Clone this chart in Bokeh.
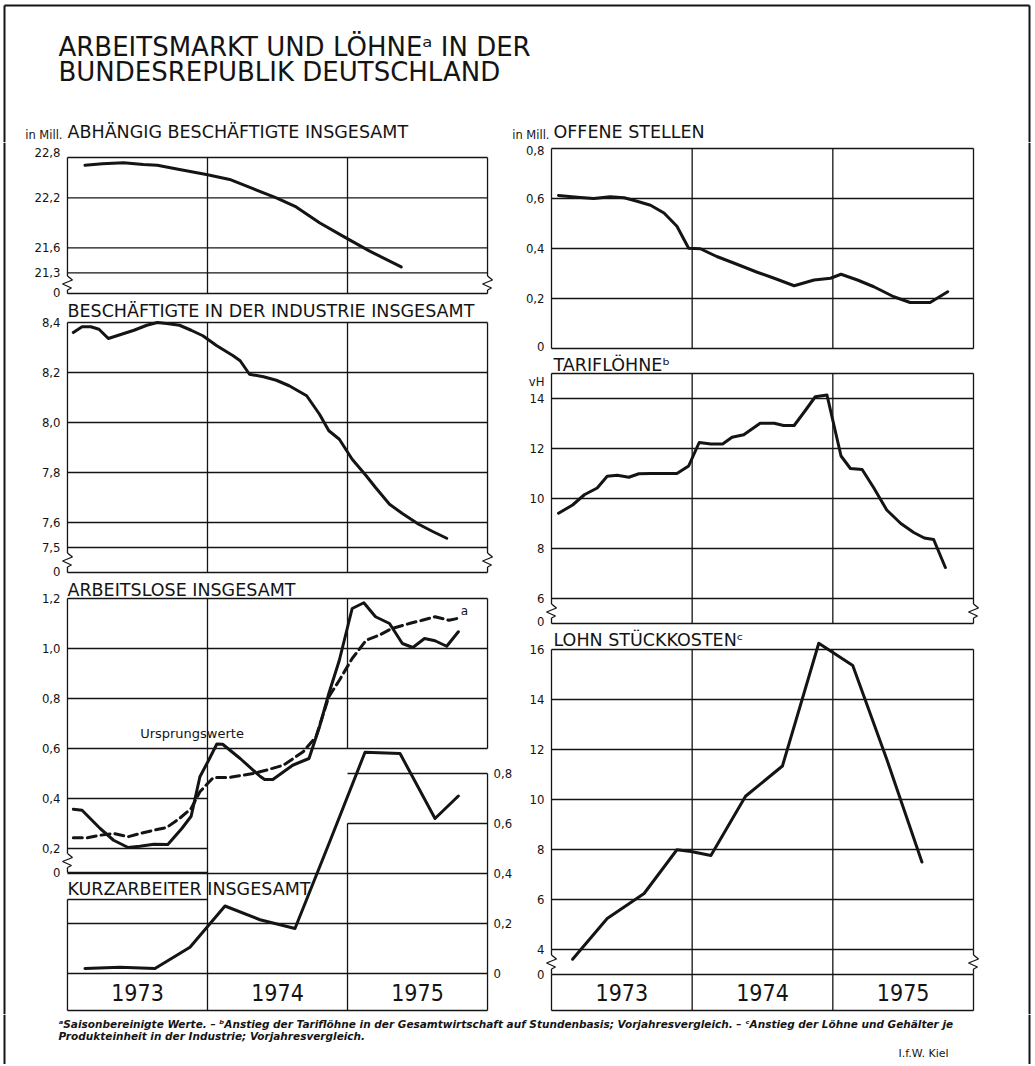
from bokeh.plotting import figure
from bokeh.models import Range1d, FixedTicker, LinearAxis, Label
from bokeh.layouts import column, row
from bokeh.embed import file_html
from bokeh.resources import INLINE
from bokeh.core.properties import value

# ---------------- data (months since Jan 1973) ----------------
jahre = ["1973", "1974", "1975"]
jahr_mitte = [6, 18, 30]
jahr_grenzen = [12, 24]

# Abhängig Beschäftigte insgesamt (Mill.)
abh_monat = [1.5, 3.0, 4.8, 6.5, 7.7, 9.6, 11.9, 13.9, 15.9, 17.9, 19.6, 21.6, 23.6, 25.9, 28.6]
abh_wert = [22.59, 22.61, 22.62, 22.60, 22.59, 22.54, 22.48, 22.42, 22.31, 22.20, 22.09, 21.90, 21.74, 21.56, 21.37]

# Beschäftigte in der Industrie insgesamt (Mill.)
ind_monat = [0.5, 1.25, 2.0, 2.7, 3.5, 4.5, 5.7, 6.8, 7.7, 8.5, 9.6, 10.6, 11.6, 12.8, 14.2, 14.8,
             15.6, 16.8, 17.9, 19.0, 20.5, 21.6, 22.4, 23.3, 24.4, 25.6, 26.4, 27.6, 28.7, 30.1, 31.3, 32.5]
ind_wert = [8.360, 8.383, 8.383, 8.373, 8.336, 8.351, 8.369, 8.389, 8.400, 8.396, 8.389, 8.369, 8.347,
            8.307, 8.267, 8.247, 8.193, 8.183, 8.169, 8.147, 8.107, 8.033, 7.967, 7.933, 7.853, 7.787,
            7.740, 7.673, 7.636, 7.593, 7.564, 7.537]

# Arbeitslose insgesamt (Mill.) - Ursprungswerte
al_monat = [0.5, 1.25, 2.8, 3.95, 5.2, 6.2, 7.4, 8.6, 9.8, 10.6, 11.35, 12.1, 12.8, 13.3, 14.8, 16.5,
            16.9, 17.6, 19.3, 20.7, 21.6, 22.4, 23.3, 24.4, 25.4, 26.4, 27.6, 28.7, 29.6, 30.6, 31.5, 32.5, 33.5]
al_wert = [0.357, 0.353, 0.280, 0.233, 0.204, 0.209, 0.217, 0.216, 0.280, 0.329, 0.487, 0.553, 0.618,
           0.617, 0.560, 0.489, 0.476, 0.476, 0.533, 0.560, 0.687, 0.820, 0.953, 1.160, 1.183, 1.127,
           1.100, 1.020, 1.004, 1.040, 1.031, 1.009, 1.067]

# Arbeitslose insgesamt (Mill.) - saisonbereinigt (a)
als_monat = [0.5, 1.7, 2.8, 3.95, 5.2, 6.2, 7.4, 8.5, 9.6, 10.6, 11.35, 12.5, 13.9, 14.2, 15.9, 17.0,
             18.5, 20.2, 21.3, 22.4, 23.3, 24.4, 25.6, 26.7, 27.8, 29.3, 30.4, 31.5, 32.7, 33.4]
als_wert = [0.243, 0.243, 0.253, 0.260, 0.247, 0.260, 0.273, 0.284, 0.320, 0.360, 0.427, 0.484, 0.484,
            0.487, 0.500, 0.513, 0.533, 0.587, 0.647, 0.807, 0.873, 0.960, 1.033, 1.053, 1.080, 1.100,
            1.113, 1.127, 1.113, 1.120]

# Kurzarbeiter insgesamt (Mill.)
kurz_monat = [1.5, 4.5, 7.5, 10.5, 13.5, 16.5, 19.5, 22.5, 25.5, 28.5, 31.5, 33.5]
kurz_wert = [0.020, 0.025, 0.020, 0.105, 0.270, 0.215, 0.180, 0.530, 0.885, 0.880, 0.620, 0.710]

# Offene Stellen (Mill.)
os_monat = [0.6, 2.2, 3.6, 5.0, 6.2, 7.3, 8.45, 9.6, 10.7, 11.7, 12.7, 14.1, 15.6, 17.55, 19.0, 20.7,
            22.4, 23.8, 24.7, 26.1, 27.5, 29.2, 30.6, 32.3, 33.8]
os_wert = [0.612, 0.605, 0.600, 0.607, 0.603, 0.589, 0.573, 0.542, 0.489, 0.401, 0.399, 0.368, 0.341,
           0.305, 0.281, 0.251, 0.274, 0.281, 0.297, 0.274, 0.247, 0.207, 0.184, 0.184, 0.227]

# Tariflöhne (vH)
tl_monat = [0.6, 1.8, 2.8, 3.9, 4.75, 5.6, 6.6, 7.45, 8.45, 9.6, 10.7, 11.7, 12.6, 13.6, 14.6, 15.4,
            16.4, 17.8, 19.0, 19.8, 20.7, 21.7, 22.5, 23.5, 24.7, 25.5, 26.5, 27.5, 28.6, 29.8, 30.9,
            31.8, 32.6, 33.6]
tl_wert = [9.41, 9.74, 10.15, 10.42, 10.89, 10.93, 10.85, 10.99, 11.00, 11.00, 11.00, 11.30, 12.24,
           12.18, 12.18, 12.45, 12.55, 13.01, 13.01, 12.92, 12.92, 13.55, 14.07, 14.14, 11.70, 11.20,
           11.16, 10.42, 9.54, 9.00, 8.64, 8.42, 8.36, 7.24]

# Lohnstückkosten (vH)
lsk_monat = [1.8, 4.75, 7.9, 10.7, 11.9, 13.6, 16.55, 19.7, 22.8, 25.7, 28.6, 31.6]
lsk_wert = [3.61, 5.24, 6.24, 7.99, 7.92, 7.76, 10.13, 11.34, 16.25, 15.36, 11.61, 7.50]

# ---------------- styling / layout constants ----------------
INK = "#141414"
FONT_T = "DejaVu Sans"
FONT_N = "DejaVu Sans Condensed, Roboto, sans-serif"
PX_M = 422 / 36.0          # pixels per month
XEXT = 6 / PX_M            # frame slack left/right (for break marks)
LW = 3
GW = 1.3
BW = 2                      # page border
ZZ = [(0, -7), (5, -3), (-5, 1), (4, 5), (0, 7)]   # break mark, px offsets (dy downwards)
SPLIT = 515
TOTAL_W = 1033
STRIP = 6
PT = 17.5                   # panel title size
BASE_SHIFT = 0.37           # label baseline correction (em)


def make_panel(width, fig_top, fig_bot, left, right, ref_y, ref_v, ppu):
    def v(y):
        return ref_v - (y - ref_y) / ppu
    p = figure(width=width, height=fig_bot - fig_top,
               x_range=Range1d(-XEXT, 36 + XEXT), y_range=Range1d(v(fig_bot - 2), v(fig_top)),
               x_axis_type=None, y_axis_type=None, output_backend="svg", toolbar_location=None,
               min_border_left=left, min_border_right=right, min_border_top=0,
               min_border_bottom=2)
    p.outline_line_color = None
    p.background_fill_color = "white"
    p.border_fill_color = "white"
    return p, v


def plain_fig(width, height, x0, x1, ytop, ybot):
    p = figure(width=width, height=height, x_range=Range1d(x0, x1), y_range=Range1d(ybot, ytop),
               x_axis_type=None, y_axis_type=None, output_backend="svg", toolbar_location=None,
               min_border=0)
    p.outline_line_color = None
    return p


def add_axis(p, ticks, labels, side="left", range_name="default", standoff=1):
    ax = LinearAxis(ticker=FixedTicker(ticks=ticks),
                    major_label_overrides={t: l for t, l in zip(ticks, labels)},
                    y_range_name=range_name)
    ax.axis_line_color = None
    ax.major_tick_line_color = None
    ax.minor_tick_line_color = None
    ax.major_tick_out = 0
    ax.major_tick_in = 0
    ax.minor_tick_out = 0
    ax.minor_tick_in = 0
    ax.major_label_standoff = standoff
    ax.major_label_text_font = FONT_N
    ax.major_label_text_font_size = "13px"
    ax.major_label_text_color = INK
    p.add_layout(ax, side)


def hlines(p, ys, x0=0, x1=36, width=GW):
    p.segment(x0=[x0] * len(ys), y0=ys, x1=[x1] * len(ys), y1=ys, line_color=INK, line_width=width)


def vlines(p, xs, y0s, y1s, width=GW):
    p.segment(x0=xs, y0=y0s, x1=xs, y1=y1s, line_color=INK, line_width=width)


def zigzag(p, x_edge, zc, v):
    p.line([x_edge + dx / PX_M for dx, dy in ZZ], [v(zc + dy) for dx, dy in ZZ],
           line_color=INK, line_width=1.3)


def lab(p, x, y_page, text, size, v=None, font=FONT_T, align="left", style="normal"):
    y = y_page - BASE_SHIFT * size
    if v is not None:
        y = v(y)
    p.add_layout(Label(x=x, y=y, text=text, text_font=font, text_font_size=f"{size}px",
                       text_align=align, text_baseline="alphabetic", text_color=INK,
                       text_font_style=style))


def data_line(p, xs, ys, **kw):
    p.line(xs, ys, line_color=INK, line_width=LW, line_join="round", line_cap="round", **kw)


def edge_with_break(p, x, top, bot, zc, v):
    vlines(p, [x, x], [top, v(zc + 7)], [v(zc - 7), bot])
    zigzag(p, x, zc, v)


# ---------------- title (page coordinates) ----------------
tf = plain_fig(TOTAL_W, 142, 0, TOTAL_W, 0, 142)
hlines(tf, [5], 4, 1029, width=BW)
vlines(tf, [4, 1029], [5, 5], [142, 142], width=BW)
lab(tf, 58, 56, "ARBEITSMARKT UND LÖHNEᵃ IN DER", 26)
lab(tf, 58, 81, "BUNDESREPUBLIK DEUTSCHLAND", 26)
lab(tf, 67, 137.5, "ABHÄNGIG BESCHÄFTIGTE INSGESAMT", PT)
lab(tf, 62, 138.5, "in Mill.", 11.5, align="right")
lab(tf, 553, 137.5, "OFFENE STELLEN", PT)
lab(tf, 549, 138.5, "in Mill.", 11.5, align="right")

# ---------------- page border strips ----------------
ls = plain_fig(STRIP, 872, 0, STRIP, 142, 1014)
vlines(ls, [4], [142], [1014], width=BW)
rs = plain_fig(STRIP, 872, 1027, 1033, 142, 1014)
vlines(rs, [1029], [142], [1014], width=BW)

# ---------------- left column ----------------
LWID, LL, LR = SPLIT - STRIP, 61 - STRIP, SPLIT - 495

# P1: Abhängig Beschäftigte
p1, v1 = make_panel(LWID, 142, 300, LL, LR, 197.3, 22.2, 83.33)
P1_TOP, P1_BOT = v1(157), v1(293)
hlines(p1, [P1_TOP, 22.2, 21.6, 21.3, P1_BOT])
vlines(p1, jahr_grenzen, [P1_BOT] * 2, [P1_TOP] * 2)
edge_with_break(p1, 0, P1_TOP, P1_BOT, 282.5, v1)
edge_with_break(p1, 36, P1_TOP, P1_BOT, 282.5, v1)
add_axis(p1, [v1(292), 21.3, 21.6, 22.2, v1(152)], ["0", "21,3", "21,6", "22,2", "22,8"])
data_line(p1, abh_monat, abh_wert)

# P2: Beschäftigte in der Industrie
p2, v2 = make_panel(LWID, 300, 579, LL, LR, 322, 8.4, 250)
P2_BOT = v2(572)
hlines(p2, [8.4, 8.2, 8.0, 7.8, 7.6, 7.5, P2_BOT])
vlines(p2, jahr_grenzen, [P2_BOT] * 2, [8.4] * 2)
edge_with_break(p2, 0, 8.4, P2_BOT, 559.5, v2)
edge_with_break(p2, 36, 8.4, P2_BOT, 559.5, v2)
add_axis(p2, [v2(570.5), 7.5, 7.6, 7.8, 8.0, 8.2, 8.4], ["0", "7,5", "7,6", "7,8", "8,0", "8,2", "8,4"])
data_line(p2, ind_monat, ind_wert)
lab(p2, 0, 317, "BESCHÄFTIGTE IN DER INDUSTRIE INSGESAMT", PT, v=v2)

# P3: Arbeitslose + Kurzarbeiter
p3, v3 = make_panel(LWID, 579, 1014, LL, LR, 598, 1.2, 250)
K_OFF = -v3(973)   # Kurzarbeiter zero line lies at page y 973
p3.extra_y_ranges = {"kurz": Range1d(p3.y_range.start + K_OFF, p3.y_range.end + K_OFF)}
A0 = v3(872)
K_TOP = v3(899)
BOT = v3(1010)
hlines(p3, [1.2, 1.0, 0.8, 0.6])
hlines(p3, [0.4, 0.2, A0, K_TOP], 0, 12)
hlines(p3, [0.8 - K_OFF, 0.6 - K_OFF], 24, 36)
hlines(p3, [0.4 - K_OFF, 0.2 - K_OFF, 0.0 - K_OFF, BOT])
vlines(p3, [0, 12, 24, 24, 36, 36], [K_TOP, 1.2, 1.2, 0.6 - K_OFF, 1.2, 0.8 - K_OFF],
       [BOT, BOT, 0.6, BOT, 0.6, BOT])
edge_with_break(p3, 0, 1.2, A0, 860, v3)
add_axis(p3, [A0, 0.2, 0.4, 0.6, 0.8, 1.0, 1.2], ["0", "0,2", "0,4", "0,6", "0,8", "1,0", "1,2"])
add_axis(p3, [0, 0.2, 0.4, 0.6, 0.8], ["0", "0,2", "0,4", "0,6", "0,8"], side="right",
         range_name="kurz", standoff=0)
data_line(p3, als_monat, als_wert, line_dash="9 5")
data_line(p3, al_monat, al_wert)
data_line(p3, kurz_monat, kurz_wert, y_range_name="kurz")
p3.text(x=jahr_mitte, y=[v3(991.5)] * 3, text=jahre, text_font=value(FONT_N),
        text_font_size="23px", text_align="center", text_baseline="middle", text_color=INK)
lab(p3, 0, 595.5, "ARBEITSLOSE INSGESAMT", PT, v=v3)
lab(p3, 0, 895, "KURZARBEITER INSGESAMT", PT, v=v3)
lab(p3, (140 - 67) / PX_M, 738, "Ursprungswerte", 13, v=v3)
lab(p3, (462 - 67) / PX_M, 615, "a", 12, v=v3)

# ---------------- right column ----------------
RWID, RL, RR = 1027 - SPLIT, 545 - SPLIT, 1027 - 979

# R1: Offene Stellen
r1, w1 = make_panel(RWID, 142, 354, RL, RR, 148, 0.8, 250)
hlines(r1, [0.8, 0.6, 0.4, 0.2, 0.0])
vlines(r1, [0, 12, 24, 36], [0.0] * 4, [0.8] * 4)
add_axis(r1, [w1(346), 0.2, 0.4, 0.6, w1(150)], ["0", "0,2", "0,4", "0,6", "0,8"])
data_line(r1, os_monat, os_wert)

# R2: Tariflöhne
r2, w2 = make_panel(RWID, 354, 629, RL, RR, 373, 15, 25)
hlines(r2, [15, 14, 12, 10, 8, 6, 5])
vlines(r2, jahr_grenzen, [5] * 2, [15] * 2)
edge_with_break(r2, 0, 15, 5, 610.5, w2)
edge_with_break(r2, 36, 15, 5, 610.5, w2)
add_axis(r2, [w2(621), 6, 8, 10, 12, 14, w2(381)], ["0", "6", "8", "10", "12", "14", "vH"])
data_line(r2, tl_monat, tl_wert)
lab(r2, 0.17, 370.5, "TARIFLÖHNEᵇ", PT, v=w2)

# R3: Lohnstückkosten
r3, w3 = make_panel(RWID, 629, 1014, RL, RR, 649, 16, 25)
R3_BOT = w3(1010)
hlines(r3, [16, 14, 12, 10, 8, 6, 4, 3, R3_BOT])
vlines(r3, jahr_grenzen, [R3_BOT] * 2, [16] * 2)
vlines(r3, [0, 36, 0, 36], [16, 16, 3, 3], [4, 4, R3_BOT, R3_BOT])
zigzag(r3, 0, 961.5, w3)
zigzag(r3, 36, 961.5, w3)
vlines(r3, [0, 36], [4, 4], [w3(961.5 - 7)] * 2)
vlines(r3, [0, 36], [w3(961.5 + 7)] * 2, [3, 3])
add_axis(r3, [3, 4, 6, 8, 10, 12, 14, 16], ["0", "4", "6", "8", "10", "12", "14", "16"])
data_line(r3, lsk_monat, lsk_wert)
r3.text(x=jahr_mitte, y=[w3(991.5)] * 3, text=jahre, text_font=value(FONT_N),
        text_font_size="23px", text_align="center", text_baseline="middle", text_color=INK)
lab(r3, 0.17, 645.5, "LOHN STÜCKKOSTENᶜ", PT, v=w3)

# ---------------- footer (page coordinates) ----------------
ff = plain_fig(TOTAL_W, 50, 0, TOTAL_W, 1014, 1064)
vlines(ff, [4, 1029], [1014, 1014], [1064, 1064], width=BW)
lab(ff, 58, 1027, "ᵃSaisonbereinigte Werte. – ᵇAnstieg der Tariflöhne in der Gesamtwirtschaft auf "
    "Stundenbasis; Vorjahresvergleich. – ᶜAnstieg der Löhne und Gehälter je", 10.5,
    style="bold italic")
lab(ff, 58, 1039, "Produkteinheit in der Industrie; Vorjahresvergleich.", 10.5,
    style="bold italic")
lab(ff, 898, 1057, "I.f.W. Kiel", 11)

left = column(p1, p2, p3, spacing=0)
right = column(r1, r2, r3, spacing=0)
layout = column(tf, row(ls, left, right, rs, spacing=0), ff, spacing=0)

open("out.html", "w").write(file_html(layout, INLINE))
